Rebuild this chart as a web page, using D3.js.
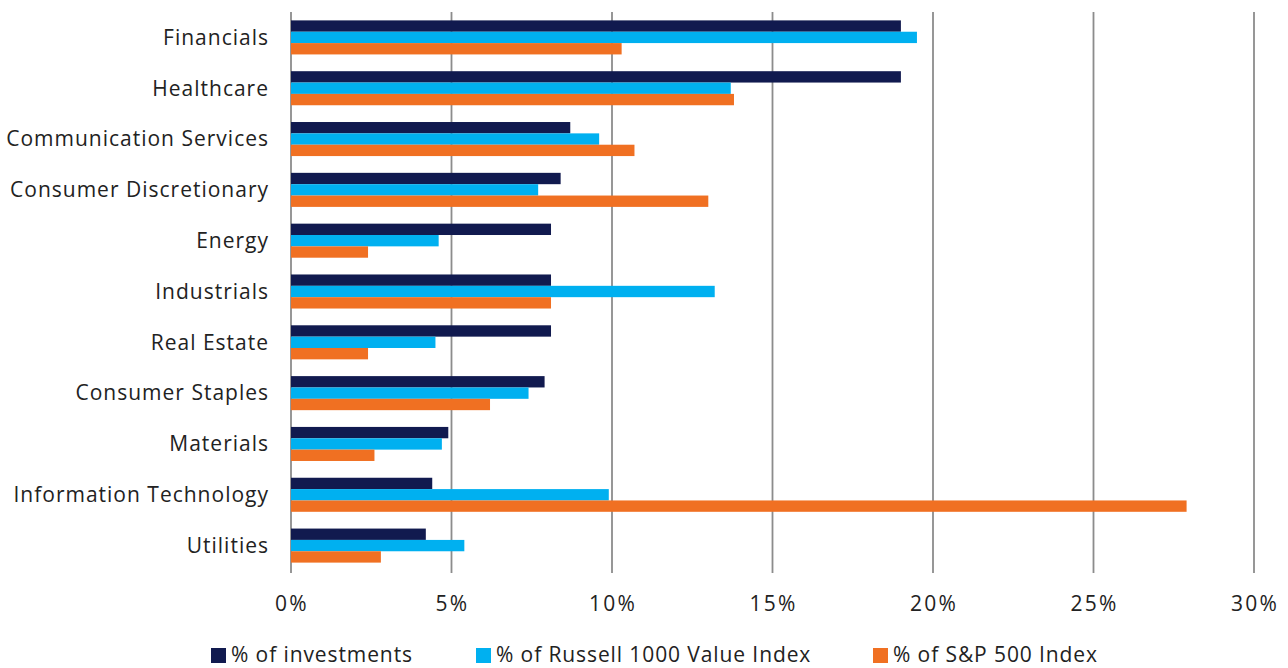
<!DOCTYPE html>
<html><head><meta charset="utf-8">
<script src="https://cdn.jsdelivr.net/npm/d3@7"></script>
<style>body{margin:0;background:#fff}svg{display:block;font-family:"Open Sans",sans-serif}</style>
</head><body><svg id="c" width="1288" height="668"></svg>
<script>
const categories = ["Financials","Healthcare","Communication Services","Consumer Discretionary","Energy","Industrials","Real Estate","Consumer Staples","Materials","Information Technology","Utilities"];
const investments = [19.0,19.0,8.7,8.4,8.1,8.1,8.1,7.9,4.9,4.4,4.2];
const russell = [19.5,13.7,9.6,7.7,4.6,13.2,4.5,7.4,4.7,9.9,5.4];
const sp500 = [10.3,13.8,10.7,13.0,2.4,8.1,2.4,6.2,2.6,27.9,2.8];
const seriesNames = ["% of investments","% of Russell 1000 Value Index","% of S&P 500 Index"];
const colors = ["#111a4f","#00b0f0","#f07022"];
const ticks = [0,5,10,15,20,25,30];

const svg = d3.select("#c");
const x = d3.scaleLinear().domain([0,30]).range([291,1254]);
const y = d3.scaleBand().domain(categories).range([12,571]).paddingInner(0.33).paddingOuter(0.165);
const series = [investments,russell,sp500];
const y1 = d3.scaleBand().domain([0,1,2]).range([0,y.bandwidth()]);

// gridlines
svg.append("g").selectAll("line").data(ticks).join("line")
  .attr("x1",d=>x(d)).attr("x2",d=>x(d)).attr("y1",12).attr("y2",573)
  .attr("stroke","#8c8c8c").attr("stroke-width",1.8);

// bars
const g = svg.append("g");
categories.forEach((c,i)=>{
  series.forEach((s,j)=>{
    g.append("rect").attr("x",x(0)).attr("y",y(c)+y1(j))
     .attr("width",x(s[i])-x(0)).attr("height",y1.bandwidth())
     .attr("fill",colors[j]);
  });
});

// category labels
svg.append("g").selectAll("text").data(categories).join("text")
  .attr("x",269).attr("y",d=>y(d)+y.bandwidth()/2).attr("dy","0.35em")
  .attr("text-anchor","end").attr("font-size",21).attr("letter-spacing",1)
  .attr("fill","#222").text(d=>d);

// tick labels
svg.append("g").selectAll("text").data(ticks).join("text")
  .attr("x",d=>x(d)+1).attr("y",611).attr("text-anchor","middle")
  .attr("font-size",21).attr("letter-spacing",2.2)
  .attr("fill","#222").text(d=>d+"%");

// legend
const legX = [211,476,873];
const lg = svg.append("g");
seriesNames.forEach((n,j)=>{
  lg.append("rect").attr("x",legX[j]).attr("y",648).attr("width",15).attr("height",15).attr("fill",colors[j]);
  lg.append("text").attr("x",legX[j]+20).attr("y",662).attr("font-size",21).attr("letter-spacing",0.9)
    .attr("fill","#222").text(n);
});
</script></body></html>
